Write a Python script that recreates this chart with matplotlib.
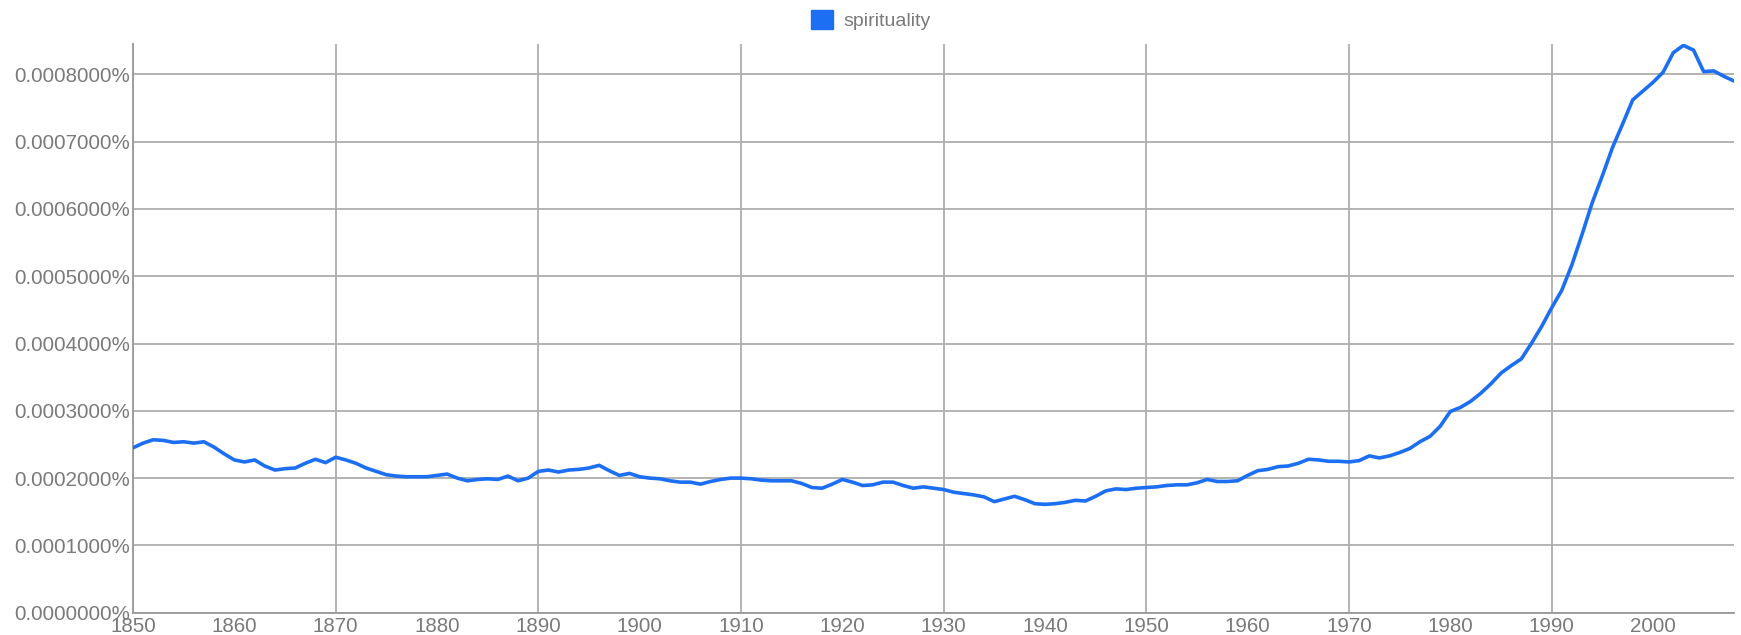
import matplotlib.pyplot as plt
from matplotlib.patches import Patch
from matplotlib.ticker import FuncFormatter, MultipleLocator
import numpy as np

plt.rcParams["font.family"] = ["Liberation Sans", "DejaVu Sans"]

# yearly share of "spirituality" in percent
years = np.arange(1850, 2009)
values = np.array([
    # 1850-1869
    2.45, 2.52, 2.57, 2.56, 2.53, 2.54, 2.52, 2.54, 2.46, 2.36,
    2.27, 2.24, 2.27, 2.18, 2.12, 2.14, 2.15, 2.22, 2.28, 2.23,
    # 1870-1889
    2.31, 2.27, 2.22, 2.15, 2.10, 2.05, 2.03, 2.02, 2.02, 2.02,
    2.04, 2.06, 2.00, 1.96, 1.98, 1.99, 1.98, 2.03, 1.96, 2.00,
    # 1890-1909
    2.10, 2.12, 2.09, 2.12, 2.13, 2.15, 2.19, 2.11, 2.04, 2.07,
    2.02, 2.00, 1.99, 1.96, 1.94, 1.94, 1.91, 1.95, 1.98, 2.00,
    # 1910-1929
    2.00, 1.99, 1.97, 1.96, 1.96, 1.96, 1.92, 1.86, 1.85, 1.91,
    1.98, 1.94, 1.89, 1.90, 1.94, 1.94, 1.89, 1.85, 1.87, 1.85,
    # 1930-1949
    1.83, 1.79, 1.77, 1.75, 1.72, 1.65, 1.69, 1.73, 1.68, 1.62,
    1.61, 1.62, 1.64, 1.67, 1.66, 1.73, 1.81, 1.84, 1.83, 1.85,
    # 1950-1969
    1.86, 1.87, 1.89, 1.90, 1.90, 1.93, 1.98, 1.95, 1.95, 1.96,
    2.04, 2.11, 2.13, 2.17, 2.18, 2.22, 2.28, 2.27, 2.25, 2.25,
    # 1970-1989
    2.24, 2.26, 2.33, 2.30, 2.33, 2.38, 2.44, 2.54, 2.62, 2.77,
    2.99, 3.05, 3.14, 3.26, 3.40, 3.56, 3.67, 3.77, 4.00, 4.25,
    # 1990-2008
    4.53, 4.79, 5.17, 5.62, 6.09, 6.49, 6.91, 7.26, 7.62, 7.75,
    7.88, 8.03, 8.32, 8.43, 8.36, 8.04, 8.05, 7.97, 7.90,
]) * 1e-4

series_label = "spirituality"
label_years = np.arange(1850, 2001, 10)
grid_years = np.arange(1850, 1991, 20)

LINE_COLOR = "#1c6ff2"
TEXT_COLOR = "#7a7a7a"
GRID_COLOR = "#aeaeae"


def main():
    fig = plt.figure(figsize=(17.41, 6.35), dpi=100)
    ax = fig.add_axes([0.0764, 0.0351, 0.996 - 0.0764, 0.9307 - 0.0351])

    for yr in grid_years:
        ax.axvline(yr, color=GRID_COLOR, linewidth=1.3, zorder=1)
    ax.yaxis.set_major_locator(MultipleLocator(0.0001))
    ax.grid(axis="y", color=GRID_COLOR, linewidth=1.3, zorder=1)

    ax.plot(years, values, color=LINE_COLOR, linewidth=2.6, zorder=3,
            solid_joinstyle="round")

    ax.set_xlim(years[0], years[-1])
    ax.set_ylim(0, 0.000845)
    ax.set_xticks(label_years)
    ax.yaxis.set_major_formatter(FuncFormatter(lambda v, p: f"{v:.7f}%"))

    ax.tick_params(axis="both", length=0, labelsize=14.8, labelcolor=TEXT_COLOR)
    ax.tick_params(axis="x", pad=3)
    ax.tick_params(axis="y", pad=2)

    for side in ["top", "right"]:
        ax.spines[side].set_visible(False)
    for side in ["left", "bottom"]:
        ax.spines[side].set_color("#999999")
        ax.spines[side].set_linewidth(1.3)

    fig.legend(
        handles=[Patch(color=LINE_COLOR, label=series_label)],
        loc="center",
        bbox_to_anchor=(0.5, 1 - 20 / 635),
        frameon=False,
        fontsize=14,
        labelcolor=TEXT_COLOR,
        handlelength=1.15,
        handleheight=1.15,
        handletextpad=0.5,
    )

    fig.savefig("out.png", dpi=100)
    plt.close(fig)


if __name__ == "__main__":
    main()
